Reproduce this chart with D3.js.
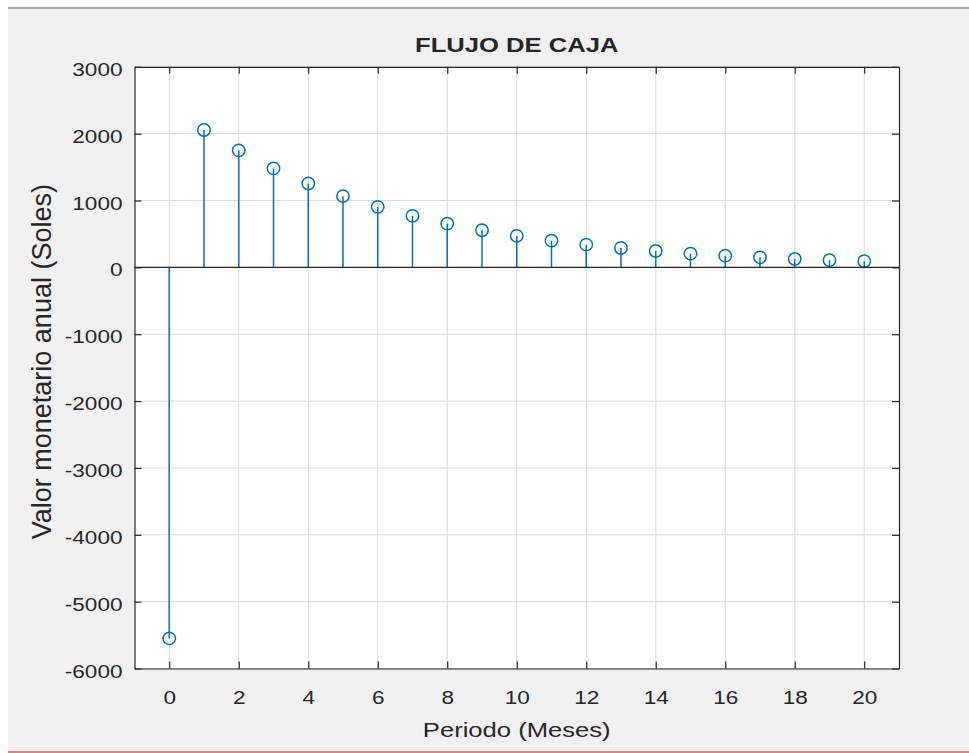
<!DOCTYPE html>
<html>
<head>
<meta charset="utf-8">
<script src="https://cdn.jsdelivr.net/npm/d3@7/dist/d3.min.js"></script>
<style>
  html, body { margin: 0; padding: 0; background: #ffffff; }
  svg { display: block; }
  text { font-family: "Liberation Sans", Arial, Helvetica, sans-serif; fill: #262626; }
</style>
</head>
<body>
<svg id="chart" width="969" height="753"></svg>
<script>
// flujo de caja por periodo (soles)
const periods = d3.range(0, 21);
const cashFlow = [-5550, 2055, 1750, 1480, 1255, 1065, 905, 770, 655, 555,
  470, 400, 340, 290, 245, 205, 175, 150, 125, 108, 92];
const xTicks = [0, 2, 4, 6, 8, 10, 12, 14, 16, 18, 20];
const yTicks = [-6000, -5000, -4000, -3000, -2000, -1000, 0, 1000, 2000, 3000];

const titleText = 'FLUJO DE CAJA';
const xLabelText = 'Periodo (Meses)';
const yLabelText = 'Valor monetario anual (Soles)';

const W = 969;
const H = 753;
const plot = { left: 134.5, right: 899, top: 66.8, bottom: 668.5 };
const stretch = 1.22;
const blue = '#0072bd';
const axisColor = '#262626';

const svg = d3.select('#chart');

// figure window background
svg.append('rect')
  .attr('width', W).attr('height', H)
  .attr('fill', '#ffffff');
svg.append('rect')
  .attr('x', 8).attr('y', 8)
  .attr('width', W - 8).attr('height', H - 10)
  .attr('fill', '#f0f0f0');
svg.append('line')
  .attr('x1', 8).attr('x2', W)
  .attr('y1', 8).attr('y2', 8)
  .attr('stroke', '#a8a8a8').attr('stroke-width', 2);
svg.append('line')
  .attr('x1', 8).attr('x2', W)
  .attr('y1', 752).attr('y2', 752)
  .attr('stroke', '#c98a84').attr('stroke-width', 2);

const x = d3.scaleLinear().domain([-1, 21]).range([plot.left, plot.right]);
const y = d3.scaleLinear().domain([-6000, 3000]).range([plot.bottom, plot.top]);

svg.append('rect')
  .attr('x', plot.left).attr('y', plot.top)
  .attr('width', plot.right - plot.left)
  .attr('height', plot.bottom - plot.top)
  .attr('fill', '#ffffff');

// grid
const grid = svg.append('g').attr('class', 'grid');
grid.selectAll('line.gx')
  .data(xTicks)
  .enter().append('line')
  .attr('class', 'gx')
  .attr('x1', d => x(d)).attr('x2', d => x(d))
  .attr('y1', plot.top).attr('y2', plot.bottom)
  .attr('stroke', '#dcdcdc').attr('stroke-width', 1);
grid.selectAll('line.gy')
  .data(yTicks)
  .enter().append('line')
  .attr('class', 'gy')
  .attr('x1', plot.left).attr('x2', plot.right)
  .attr('y1', d => y(d)).attr('y2', d => y(d))
  .attr('stroke', '#dcdcdc').attr('stroke-width', 1);

// stems
const stems = svg.append('g').attr('class', 'stems');
stems.selectAll('line')
  .data(cashFlow)
  .enter().append('line')
  .attr('x1', (d, i) => x(periods[i])).attr('x2', (d, i) => x(periods[i]))
  .attr('y1', y(0)).attr('y2', d => y(d))
  .attr('stroke', blue).attr('stroke-width', 1.5);

// baseline at zero
svg.append('line')
  .attr('x1', plot.left).attr('x2', plot.right)
  .attr('y1', y(0)).attr('y2', y(0))
  .attr('stroke', axisColor).attr('stroke-width', 1.2);

stems.selectAll('circle')
  .data(cashFlow)
  .enter().append('circle')
  .attr('cx', (d, i) => x(periods[i]))
  .attr('cy', d => y(d))
  .attr('r', 6.2)
  .attr('fill', 'none')
  .attr('stroke', blue).attr('stroke-width', 1.5);

// axes (ticks inward, box on)
const tickLen = 7;
const fmt = d => String(d);
const styleAxis = g => {
  g.select('.domain').attr('stroke', axisColor).attr('stroke-width', 1.2);
  g.selectAll('.tick line').attr('stroke', axisColor).attr('stroke-width', 1.2);
};

const xAxis = svg.append('g')
  .attr('transform', `translate(0,${plot.bottom})`)
  .call(d3.axisBottom(x).tickValues(xTicks).tickSize(-tickLen).tickSizeOuter(0).tickFormat(fmt))
  .call(styleAxis);
xAxis.selectAll('.tick text')
  .attr('y', 0).attr('dy', null)
  .attr('transform', `translate(0,35) scale(${stretch},1)`)
  .attr('font-size', 18.5)
  .attr('fill', axisColor);

const yAxis = svg.append('g')
  .attr('transform', `translate(${plot.left},0)`)
  .call(d3.axisLeft(y).tickValues(yTicks).tickSize(-tickLen).tickSizeOuter(0).tickFormat(fmt))
  .call(styleAxis);
yAxis.selectAll('.tick text')
  .attr('x', 0).attr('dy', null)
  .attr('transform', `translate(-12,8.5) scale(${stretch},1)`)
  .attr('font-size', 18.5)
  .attr('fill', axisColor);

svg.append('g')
  .attr('transform', `translate(0,${plot.top})`)
  .call(d3.axisTop(x).tickValues(xTicks).tickSize(-tickLen).tickSizeOuter(0).tickFormat(''))
  .call(styleAxis);
svg.append('g')
  .attr('transform', `translate(${plot.right},0)`)
  .call(d3.axisRight(y).tickValues(yTicks).tickSize(-tickLen).tickSizeOuter(0).tickFormat(''))
  .call(styleAxis);

// labels
const midX = (plot.left + plot.right) / 2;
const midY = (plot.top + plot.bottom) / 2;

svg.append('text')
  .attr('transform', `translate(${midX},52) scale(${stretch},1)`)
  .attr('text-anchor', 'middle')
  .attr('font-size', 21)
  .attr('font-weight', 'bold')
  .attr('fill', '#000000')
  .text(titleText);

svg.append('text')
  .attr('transform', `translate(${midX},737) scale(${stretch},1)`)
  .attr('text-anchor', 'middle')
  .attr('font-size', 21)
  .text(xLabelText);

svg.append('text')
  .attr('transform', `translate(51,${midY - 6}) rotate(-90)`)
  .attr('text-anchor', 'middle')
  .attr('font-size', 27)
  .text(yLabelText);
</script>
</body>
</html>
